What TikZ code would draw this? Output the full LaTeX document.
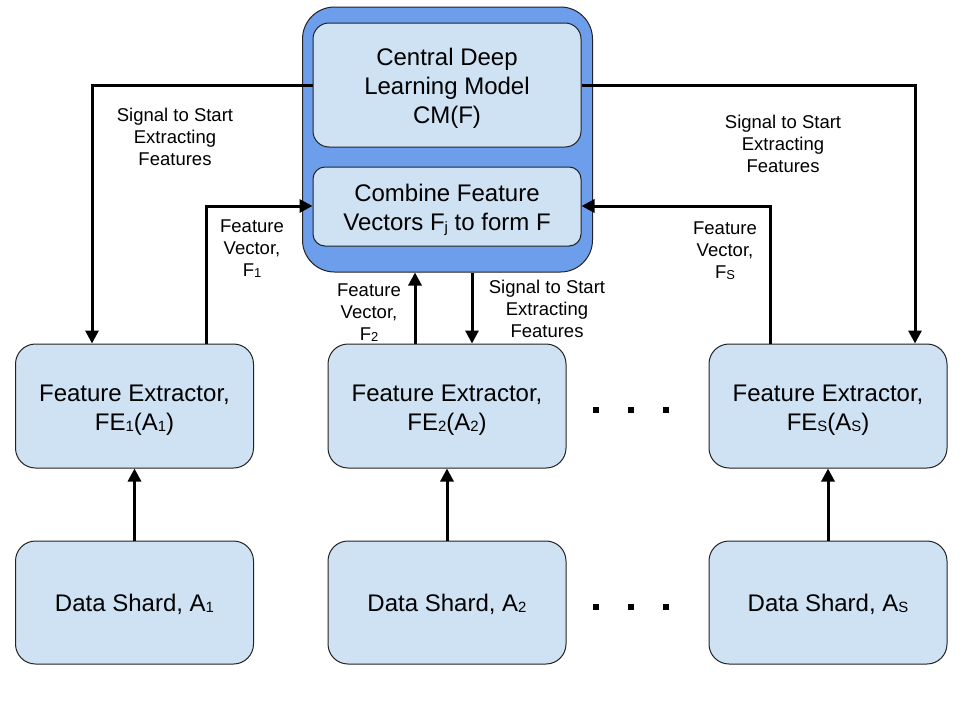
\documentclass[tikz,border=0pt]{standalone}
\usepackage{fontspec}
\setmainfont{Liberation Sans}
\usetikzlibrary{arrows.meta,calc}
\definecolor{boxfill}{HTML}{CFE2F3}
\definecolor{outerfill}{HTML}{6D9EEB}
\definecolor{boxdraw}{HTML}{222222}
\newcommand\mysub[1]{\raisebox{-0.12ex}{\scalebox{0.62}{#1}}}
\newcommand\lsub[1]{\raisebox{-0.12ex}{\scalebox{0.7}{#1}}}
\tikzset{
  box/.style={draw=boxdraw, line width=1pt, fill=boxfill, rounded corners=#1, inner sep=0pt},
  box/.default=20pt,
  btxt/.style={align=center, font=\fontsize{24}{29}\selectfont, inner sep=0pt},
  lbl/.style={align=center, font=\fontsize{18.5}{22}\selectfont, inner sep=0pt},
  arr/.style={line width=3pt, -{Triangle[length=13pt,width=13pt]}},
  dotsq/.style={fill=black, minimum size=6.5pt, inner sep=0pt},
}
\begin{document}
\begin{tikzpicture}[x=1pt,y=-1pt]
\useasboundingbox (0,0) rectangle (960,720);
% central block
\node[draw=boxdraw, line width=1pt, fill=outerfill, rounded corners=32pt, minimum width=290pt, minimum height=265pt] (outer) at (447.5,139.5) {};
\node[box=16pt, minimum width=268pt, minimum height=124pt] (cm) at (447,85) {};
\node[box=12pt, minimum width=268pt, minimum height=79pt] (comb) at (447,206.5) {};
% feature extractors
\node[box, minimum width=238pt, minimum height=124pt] (fe1) at (134.5,406) {};
\node[box, minimum width=238pt, minimum height=124pt] (fe2) at (447,406) {};
\node[box, minimum width=238pt, minimum height=124pt] (fes) at (828,406) {};
% data shards
\node[box, minimum width=238pt, minimum height=123pt] (ds1) at (134.5,602.5) {};
\node[box, minimum width=238pt, minimum height=123pt] (ds2) at (447,602.5) {};
\node[box, minimum width=238pt, minimum height=123pt] (dss) at (828,602.5) {};
% box texts
\node[btxt] (cmt) at ([yshift=-3.5pt]cm.center) {Central Deep\\Learning Model\\CM(F)};
\node[btxt] (combt) at ([yshift=-3.5pt]comb.center) {Combine Feature\\Vectors F\mysub{j} to form F};
\node[btxt] (fe1t) at ([yshift=-4pt]fe1.center) {Feature Extractor,\\FE\mysub{1}(A\mysub{1})};
\node[btxt] (fe2t) at ([yshift=-4pt]fe2.center) {Feature Extractor,\\FE\mysub{2}(A\mysub{2})};
\node[btxt] (fest) at ([yshift=-4pt]fes.center) {Feature Extractor,\\FE\mysub{S}(A\mysub{S})};
\node[btxt] (ds1t) at ([yshift=-1.5pt]ds1.center) {Data Shard, A\mysub{1}};
\node[btxt] (ds2t) at ([yshift=-1.5pt]ds2.center) {Data Shard, A\mysub{2}};
\node[btxt] (dsst) at ([yshift=-1.5pt]dss.center) {Data Shard, A\mysub{S}};
% dots
\foreach \x/\n in {596/a,631/b,666/c}{
  \node[dotsq] (d1\n) at (\x,410) {};
  \node[dotsq] (d2\n) at (\x,607) {};
}
% coordinates for routes
\coordinate (tl) at (92,85);
\coordinate (tr) at (915,85);
\coordinate (f1) at (206,206);
\coordinate (fs) at (770,206);
\coordinate (f2) at (415,0);
\coordinate (sg) at (472,0);
% connectors
\draw[arr] (cm.west) -- (tl) -- (tl |- fe1.north);
\draw[arr] (cm.east) -- (tr) -- (tr |- fes.north);
\draw[arr] (f1 |- fe1.north) -- (f1) -- (comb.west |- f1);
\draw[arr] (fs |- fes.north) -- (fs) -- (comb.east |- fs);
\draw[arr] (f2 |- fe2.north) -- (f2 |- outer.south);
\draw[arr] (sg |- outer.south) -- (sg |- fe2.north);
\draw[arr] (ds1.north) -- (fe1.south);
\draw[arr] (ds2.north) -- (fe2.south);
\draw[arr] (dss.north) -- (fes.south);
% labels
\node[lbl] (l1) at (175,137) {Signal to Start\\Extracting\\Features};
\node[lbl] (l2) at (783,144) {Signal to Start\\Extracting\\Features};
\node[lbl] (l3) at (252,249) {Feature\\Vector,\\F\lsub{1}};
\node[lbl] (l4) at (369,313) {Feature\\Vector,\\F\lsub{2}};
\node[lbl] (l5) at (547,308.5) {Signal to Start\\Extracting\\Features};
\node[lbl] (l6) at (725,251) {Feature\\Vector,\\F\lsub{S}};
\end{tikzpicture}
\end{document}
